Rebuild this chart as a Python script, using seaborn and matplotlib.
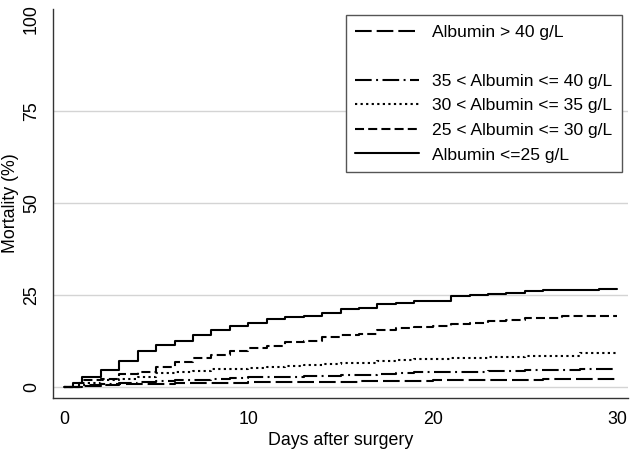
import matplotlib
matplotlib.use("Agg")
import matplotlib.pyplot as plt
from matplotlib.lines import Line2D
import seaborn as sns
import pandas as pd

sns.set_style("white")
plt.rcParams['font.family'] = ['Liberation Sans', 'DejaVu Sans']
plt.rcParams['lines.scale_dashes'] = False
plt.rcParams['text.color'] = 'black'
plt.rcParams['axes.labelcolor'] = 'black'
plt.rcParams['xtick.color'] = 'black'
plt.rcParams['ytick.color'] = 'black'

# ---- data ----
days_le25 = [0, 0.5, 1, 2, 3, 4, 5, 6, 7, 8, 9, 10, 11, 12, 13, 14, 15, 16, 17, 18, 19,
             21, 22, 23, 24, 25, 26, 29, 30]
mort_le25 = [0, 1.0, 2.6, 4.5, 7.0, 9.8, 11.5, 12.6, 14.0, 15.6, 16.5, 17.5, 18.5, 18.9,
             19.2, 20.2, 21.1, 21.6, 22.6, 22.9, 23.5, 24.6, 25.0, 25.3, 25.5, 26.1,
             26.4, 26.7, 26.7]

days_25_30 = [0, 0.8, 1, 2, 3, 4, 5, 6, 7, 8, 9, 10, 11, 12, 13, 14, 15, 16, 17, 18, 19,
              20, 21, 22, 23, 24, 25, 26, 27, 28, 29, 30]
mort_25_30 = [0, 1.0, 1.8, 2.2, 3.6, 4.2, 5.4, 6.8, 8.0, 8.6, 9.8, 10.5, 11.2, 12.2,
              12.4, 13.5, 14.0, 14.4, 15.5, 16.0, 16.4, 16.5, 17.1, 17.3, 17.8, 18.3,
              18.7, 18.8, 19.2, 19.2, 19.3, 19.4]

days_daily = list(range(0, 31))
mort_30_35 = [0, 1.2, 1.8, 2.3, 2.8, 3.7, 4.0, 4.4, 4.8, 5.0, 5.3, 5.4, 5.7, 5.9, 6.2,
              6.4, 6.6, 7.1, 7.3, 7.6, 7.7, 7.8, 7.9, 8.1, 8.2, 8.3, 8.4, 8.4, 9.3, 9.3, 9.3]
mort_35_40 = [0, 0.5, 0.9, 1.2, 1.4, 1.6, 1.8, 2.0, 2.2, 2.5, 2.6, 2.7, 2.8, 3.0, 3.1,
              3.2, 3.4, 3.5, 3.7, 4.0, 4.0, 4.1, 4.2, 4.4, 4.4, 4.5, 4.6, 4.7, 4.9, 4.9, 5.0]
mort_gt40 = [0, 0.3, 0.5, 0.7, 0.8, 0.9, 1.0, 1.1, 1.2, 1.2, 1.3, 1.3, 1.4, 1.4, 1.5,
             1.5, 1.6, 1.6, 1.7, 1.7, 1.8, 1.8, 1.9, 1.9, 2.0, 2.0, 2.1, 2.1, 2.2, 2.2, 2.3]

labels = ["Albumin > 40 g/L", "35 < Albumin <= 40 g/L", "30 < Albumin <= 35 g/L",
          "25 < Albumin <= 30 g/L", "Albumin <=25 g/L"]
yticks = [0, 25, 50, 75, 100]
xticks = [0, 10, 20, 30]

series = [
    (days_daily, mort_gt40, labels[0], (0, (12, 3.6))),
    (days_daily, mort_35_40, labels[1], (0, (12, 3.2, 1.4, 3.2))),
    (days_daily, mort_30_35, labels[2], (0, (1.6, 2.4))),
    (days_25_30, mort_25_30, labels[3], (0, (6.5, 3.0))),
    (days_le25, mort_le25, labels[4], '-'),
]

FS = 12.8

fig = plt.figure(figsize=(6.33, 4.51), dpi=100)
ax = fig.add_axes([53 / 633, (451 - 397.7) / 451, (628 - 53) / 633, (397.7 - 9.3) / 451])

for yv in [0, 25, 50, 75]:
    ax.axhline(yv, color='#d4d4d4', lw=1.0, zorder=0)

handles = []
for d, m, lab, ls in series:
    df = pd.DataFrame({"day": d, "mort": m})
    sns.lineplot(data=df, x="day", y="mort", ax=ax, color='black', lw=1.5,
                 drawstyle='steps-post', linestyle=ls, legend=False,
                 estimator=None, sort=True)
    handles.append(Line2D([], [], color='black', lw=1.5, linestyle=ls))

blank = Line2D([], [], linestyle='none')
leg_handles = [handles[0], blank, handles[1], handles[2], handles[3], handles[4]]
leg_labels = [labels[0], " ", labels[1], labels[2], labels[3], labels[4]]
leg = ax.legend(leg_handles, leg_labels, loc='upper right',
                bbox_to_anchor=((622 - 53) / 575, (397.7 - 15) / 388.4),
                borderaxespad=0, fontsize=12.6, handlelength=3.66,
                handletextpad=0.74, labelspacing=0.53, borderpad=0.55,
                fancybox=False, framealpha=1, edgecolor='#555555')
leg.get_frame().set_linewidth(1.0)

ax.set_xlim(-0.6, 30.6)
ax.set_ylim(-2.9, 102.6)
ax.set_xticks(xticks)
ax.set_yticks(yticks)
ax.set_yticklabels([str(v) for v in yticks], rotation=90, va='center')
ax.tick_params(axis='both', direction='out', length=4.5, width=1.0, color='#333333',
               labelsize=FS, pad=5.0)
ax.set_xlabel("Days after surgery", fontsize=FS, labelpad=3)
ax.set_ylabel("Mortality (%)", fontsize=FS, labelpad=3)

for s in ['top', 'right']:
    ax.spines[s].set_visible(False)
for s in ['left', 'bottom']:
    ax.spines[s].set_color('#333333')
    ax.spines[s].set_linewidth(1.0)

fig.savefig("out.png", dpi=100)
